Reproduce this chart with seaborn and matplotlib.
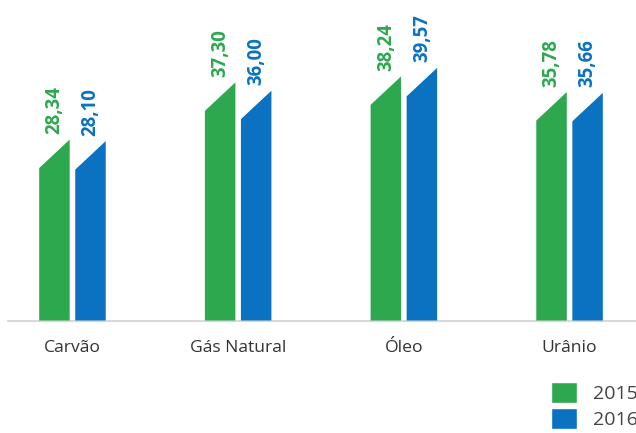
import numpy as np
import pandas as pd
import seaborn as sns
import matplotlib
matplotlib.use("Agg")
import matplotlib.pyplot as plt
from matplotlib.patches import Polygon, Patch

# ---- data ----
categories = ["Carvão", "Gás Natural", "Óleo", "Urânio"]
years = ["2015", "2016"]
values_2015 = [28.34, 37.30, 38.24, 35.78]
values_2016 = [28.10, 36.00, 39.57, 35.66]
labels_2015 = ["28,34", "37,30", "38,24", "35,78"]
labels_2016 = ["28,10", "36,00", "39,57", "35,66"]

GREEN = "#2DA84F"
BLUE = "#0A72C0"
palette = {"2015": GREEN, "2016": BLUE}

df = pd.DataFrame({
    "categoria": categories * 2,
    "ano": [years[0]] * len(categories) + [years[1]] * len(categories),
    "valor": values_2015 + values_2016,
})

sns.set_theme(style="white")
plt.rcParams["font.family"] = ["Open Sans", "DejaVu Sans"]

W, H = 636, 433
fig = plt.figure(figsize=(W / 100, H / 100), dpi=100)
ax = fig.add_axes([8 / W, (H - 320.5) / H, 1 - 8 / W, 320.5 / H])

sns.barplot(data=df, x="categoria", y="valor", hue="ano", palette=palette,
            width=0.435, gap=0.154, saturation=1, legend=False, ax=ax)

ax.set_xlim(-0.389, 3.401)
ax.set_ylim(0, 50.2)

# slant of the bar tops (in pixels -> data units)
slant_px = 28.5
px_per_unit = ax.bbox.height / (ax.get_ylim()[1] - ax.get_ylim()[0])
slant = slant_px / px_per_unit

all_labels = [labels_2015, labels_2016]
for container, labs, col in zip(ax.containers, all_labels, [GREEN, BLUE]):
    for bar, lab in zip(container.patches, labs):
        x0 = bar.get_x()
        w = bar.get_width()
        h = bar.get_height()
        poly = Polygon([(x0, 0), (x0 + w, 0), (x0 + w, h), (x0, h - slant)],
                       closed=True, facecolor=col, edgecolor="none", zorder=3)
        ax.add_patch(poly)
        bar.set_visible(False)
        ax.annotate(lab, (x0 + w / 2, h), xytext=(0, 4), textcoords="offset points",
                    rotation=90, ha="center", va="bottom", color=col,
                    fontsize=13.4, fontweight="bold")

for s in ["top", "left", "right"]:
    ax.spines[s].set_visible(False)
ax.spines["bottom"].set_color("#d9d9d9")
ax.spines["bottom"].set_linewidth(1.5)
ax.set_yticks([])
ax.set_xlabel("")
ax.set_ylabel("")
ax.tick_params(axis="x", length=0, pad=14, labelsize=12.6, labelcolor="#333333")

handles = [Patch(facecolor=GREEN, label="2015"), Patch(facecolor=BLUE, label="2016")]
leg = fig.legend(handles=handles, loc="upper left",
                 bbox_to_anchor=(551 / W, 1 - 382 / H), frameon=False,
                 fontsize=14, handlelength=1.34, handleheight=1.29,
                 labelspacing=0.26, handletextpad=0.82, borderaxespad=0, borderpad=0)
for t in leg.get_texts():
    t.set_color("#444444")

fig.savefig("out.png", dpi=100)
